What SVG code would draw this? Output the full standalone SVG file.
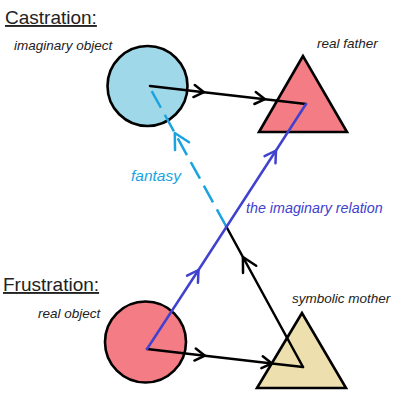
<svg xmlns="http://www.w3.org/2000/svg" width="400" height="401" viewBox="0 0 400 401">
<style>
.title{font-family:"Liberation Sans",Arial,sans-serif;font-size:19px;fill:#222;text-decoration:underline}
.lbl{font-family:"Liberation Sans",Arial,sans-serif;font-size:13.5px;font-style:italic;fill:#222}
.shape{stroke:#000;stroke-width:2.6}
.ln{fill:none;stroke-width:2.5;stroke-linecap:round;stroke-linejoin:round}
.blk{stroke:#000}
.blu{stroke:#4141CF}
.cya{stroke:#1BA3E0;stroke-dasharray:19 8;stroke-linecap:butt}
.head{fill:none;stroke-width:2.5;stroke-linecap:round;stroke-linejoin:round;stroke-dasharray:none}
</style>
<defs>
<marker id="hBlkS" markerUnits="userSpaceOnUse" orient="auto" refX="0" refY="0" markerWidth="30" markerHeight="30" overflow="visible"><path class="head" stroke="#000" d="M-10,-6 L0,0 L-10,6"/></marker>
<marker id="hBlkL" markerUnits="userSpaceOnUse" orient="auto" refX="0" refY="0" markerWidth="30" markerHeight="30" overflow="visible"><path class="head" stroke="#000" d="M-14,-7.5 L0,0 L-14,7.5"/></marker>
<marker id="hBlu" markerUnits="userSpaceOnUse" orient="auto" refX="0" refY="0" markerWidth="30" markerHeight="30" overflow="visible"><path class="head" stroke="#4141CF" d="M-11,-6.5 L0,0 L-11,6.5"/></marker>
<marker id="hCya" markerUnits="userSpaceOnUse" orient="auto" refX="0" refY="0" markerWidth="30" markerHeight="30" overflow="visible"><path class="head" stroke="#1BA3E0" d="M-15,-8 L0,0 L-15,8"/></marker>
</defs>
<rect width="400" height="401" fill="#fff"/>
<text class="title" x="5" y="24">Castration:</text>
<text class="title" x="3" y="291">Frustration:</text>
<g id="imaginary-object">
<circle class="shape" cx="147.5" cy="86" r="40" fill="#9ED8E9"/>
<text class="lbl" x="14" y="50">imaginary object</text>
</g>
<g id="real-father">
<polygon class="shape" points="303,56 259,132 347,132" fill="#F47C84" stroke-linejoin="miter"/>
<text class="lbl" x="317" y="48">real father</text>
</g>
<g id="real-object">
<circle class="shape" cx="145.5" cy="342" r="40.5" fill="#F47C84"/>
<text class="lbl" x="38" y="318">real object</text>
</g>
<g id="symbolic-mother">
<polygon class="shape" points="302,313 257,388 346,388" fill="#EEDFAF"/>
<text class="lbl" x="292" y="303">symbolic mother</text>
</g>
<g id="connectors">
<path class="ln blk" d="M150,86 L204,92.2 L265,99.2 L306,104" marker-mid="url(#hBlkS)"/>
<path class="ln blk" d="M147,349 L205,355.7 L272,363.4 L303,367" marker-mid="url(#hBlkS)"/>
<path class="ln blk" d="M303,367 L242.9,257 L226,226" marker-mid="url(#hBlkL)"/>
<path class="ln cya" d="M226,226 L174.8,133 L150,88" marker-mid="url(#hCya)"/>
<path class="ln blu" d="M147,349 L198.5,270 L276,150.5 L306,104" marker-mid="url(#hBlu)"/>
<text x="131" y="181" font-family="Liberation Sans, Arial, sans-serif" font-size="15.5" font-style="italic" fill="#1BA3E0">fantasy</text>
<text x="246" y="213" font-family="Liberation Sans, Arial, sans-serif" font-size="14.3" font-style="italic" fill="#4141CF">the imaginary relation</text>
</g>
</svg>
